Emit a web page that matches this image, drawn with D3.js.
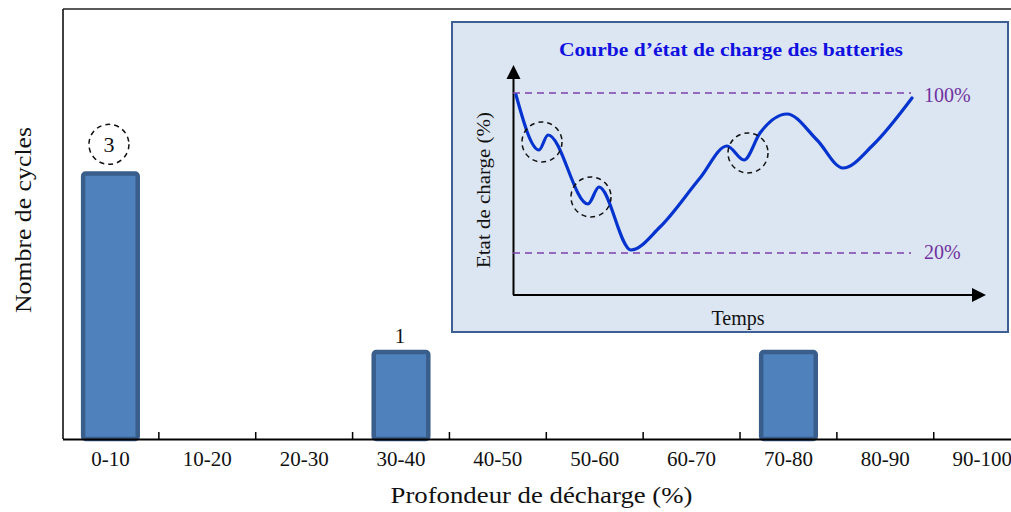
<!DOCTYPE html>
<html><head><meta charset="utf-8">
<script src="https://cdn.jsdelivr.net/npm/d3@7"></script>
<style>body{margin:0;background:#fff}svg{display:block}text{font-family:"Liberation Serif","Times New Roman",serif}</style>
</head><body>
<svg id="c" width="1011" height="512"></svg>
<script>
// ---- data ----
const categories = ["0-10","10-20","20-30","30-40","40-50","50-60","60-70","70-80","80-90","90-100"];
const cycles = [3,0,0,1,0,0,0,1,0,0];
const barLabels = ["3","","","1","","","","","",""];
const circledLabels = ["3"];
// inset: state of charge curve (time units, % SOC)
const socTime = [0.75, 6.5, 8.75, 18.75, 21.5, 29.5, 36.75, 46.75, 53.5, 57.75, 61.75, 68.5, 76, 82.5, 90, 99.75];
const socValue = [99, 71.5, 79, 44.5, 53, 21.5, 33, 57.5, 73.5, 66.5, 80, 89.5, 76.5, 62.5, 74, 97.5];
const socLimits = [100, 20];
const socLimitLabels = ["100%", "20%"];
const circleTime = [7.25, 19.5, 58.75];
const circleSoc = [75.5, 48, 70];

const svg = d3.select("#c");

// ---- main chart ----
const x = d3.scaleBand().domain(categories).range([62, 1030.6]).paddingInner(0.39).paddingOuter(0.195);
const y = d3.scaleLinear().domain([0, 4.82]).range([439, 9]);

// frame
svg.append("line").attr("x1",63).attr("x2",63).attr("y1",9).attr("y2",439).attr("stroke","#000").attr("stroke-width",1.5);
svg.append("line").attr("x1",63).attr("x2",1011).attr("y1",9).attr("y2",9).attr("stroke","#222").attr("stroke-width",1.5);

// bars
const sw = 4.5;
svg.append("g").selectAll("rect").data(categories.filter((c,i)=>cycles[i]>0)).join("rect")
  .attr("x", c => x(c) + sw/2)
  .attr("width", x.bandwidth() - sw)
  .attr("y", c => y(cycles[categories.indexOf(c)]) + sw/2)
  .attr("height", c => y(0) - y(cycles[categories.indexOf(c)]) - sw/2)
  .attr("rx", 2.5)
  .attr("fill", "#4f81bd").attr("stroke", "#395e8c").attr("stroke-width", sw);

// baseline + ticks
svg.append("line").attr("x1",63).attr("x2",1011).attr("y1",439.5).attr("y2",439.5).attr("stroke","#000").attr("stroke-width",2);
svg.append("g").selectAll("line").data(categories.slice(1)).join("line")
  .attr("x1", c => x(c) + x.bandwidth()/2 - x.step()/2)
  .attr("x2", c => x(c) + x.bandwidth()/2 - x.step()/2)
  .attr("y1", 439).attr("y2", 432).attr("stroke","#000").attr("stroke-width",1.5);

const xAxis = svg.append("g").attr("transform","translate(0,439)")
  .call(d3.axisBottom(x).tickSize(0).tickPadding(12));
xAxis.select(".domain").remove();
xAxis.selectAll("text").attr("font-size",21).attr("font-family","Liberation Serif").attr("fill","#111");

// value labels
categories.forEach((c,i) => {
  if (!barLabels[i]) return;
  const cx = x(c) + x.bandwidth()/2;
  const ty = y(cycles[i]);
  if (circledLabels.includes(barLabels[i])) {
    svg.append("circle").attr("cx", cx - 1.5).attr("cy", ty - 27).attr("r", 20)
      .attr("fill","none").attr("stroke","#111").attr("stroke-width",1.5).attr("stroke-dasharray","5,4");
    svg.append("text").attr("x", cx - 1.5).attr("y", ty - 19).attr("text-anchor","middle")
      .attr("font-size",22).attr("fill","#111").text(barLabels[i]);
  } else {
    svg.append("text").attr("x", cx - 1).attr("y", ty - 7).attr("text-anchor","middle")
      .attr("font-size",21).attr("fill","#111").text(barLabels[i]);
  }
});

// axis titles
svg.append("text").attr("x", 541.5).attr("y", 503).attr("text-anchor","middle")
  .attr("font-size",24).attr("fill","#111").attr("textLength",302).attr("lengthAdjust","spacingAndGlyphs")
  .text("Profondeur de décharge (%)");
svg.append("text").attr("transform","translate(31,220) rotate(-90)").attr("text-anchor","middle")
  .attr("font-size",24).attr("fill","#111").attr("textLength",186).attr("lengthAdjust","spacingAndGlyphs")
  .text("Nombre de cycles");

// ---- inset ----
const inset = svg.append("g");
inset.append("rect").attr("x",452).attr("y",22).attr("width",556).attr("height",310)
  .attr("fill","#dce6f2").attr("stroke","#3d5f94").attr("stroke-width",2);

inset.append("text").attr("x",731).attr("y",56).attr("text-anchor","middle")
  .attr("font-size",19).attr("font-weight","bold").attr("fill","#1010e0")
  .attr("textLength",344).attr("lengthAdjust","spacingAndGlyphs")
  .text("Courbe d’état de charge des batteries");

const tx = d3.scaleLinear().domain([0,100]).range([513,913]);
const sy = d3.scaleLinear().domain([0,100]).range([293,93]);

// axes with arrows
inset.append("line").attr("x1",513.5).attr("x2",513.5).attr("y1",295).attr("y2",76).attr("stroke","#000").attr("stroke-width",2);
inset.append("line").attr("x1",513).attr("x2",976).attr("y1",295).attr("y2",295).attr("stroke","#000").attr("stroke-width",2);
inset.append("path").attr("d","M513.5,65 L506.5,79 L520.5,79 Z").attr("fill","#000");
inset.append("path").attr("d","M986,295 L972,288 L972,302 Z").attr("fill","#000");

// limit lines
socLimits.forEach((v,i) => {
  inset.append("line").attr("x1",tx(0)).attr("x2",tx(99.5)).attr("y1",sy(v)).attr("y2",sy(v))
    .attr("stroke","#7e3fb0").attr("stroke-width",1.6).attr("stroke-dasharray","7,5");
  inset.append("text").attr("x",924).attr("y",sy(v)+ (i===0?9:6)).attr("font-size",20).attr("fill","#7030a0")
    .text(socLimitLabels[i]);
});

// curve
const pts = socTime.map((t,i)=>[t, socValue[i]]);
inset.append("path").datum(pts)
  .attr("d", d3.line().x(d=>tx(d[0])).y(d=>sy(d[1])).curve(d3.curveMonotoneX))
  .attr("fill","none").attr("stroke","#0433cf").attr("stroke-width",3.2).attr("stroke-linecap","round");

// dashed circles
circleTime.forEach((t,i) => {
  inset.append("circle").attr("cx",tx(t)).attr("cy",sy(circleSoc[i])).attr("r",20)
    .attr("fill","none").attr("stroke","#111").attr("stroke-width",1.5).attr("stroke-dasharray","5,4");
});

inset.append("text").attr("x",738).attr("y",325).attr("text-anchor","middle").attr("font-size",20).attr("fill","#111").text("Temps");
inset.append("text").attr("transform","translate(490,190) rotate(-90)").attr("text-anchor","middle")
  .attr("font-size",19).attr("fill","#111").attr("textLength",156).attr("lengthAdjust","spacingAndGlyphs")
  .text("Etat de charge (%)");
</script>
</body></html>
